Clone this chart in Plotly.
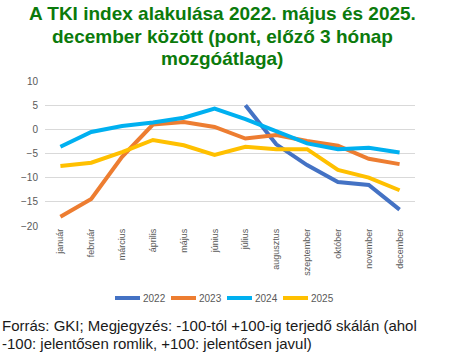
import plotly.graph_objects as go

months = ["január", "február", "március", "április", "május", "június", "július",
          "augusztus", "szeptember", "október", "november", "december"]
y2022 = [None, None, None, None, None, None, 5.0, -3.1, -7.4, -10.9, -11.5, -16.6]
y2023 = [-18.1, -14.4, -5.7, 1.0, 1.5, 0.5, -1.9, -1.2, -2.4, -3.4, -6.1, -7.2]
y2024 = [-3.6, -0.55, 0.7, 1.4, 2.4, 4.3, 2.1, -0.35, -2.9, -4.1, -3.8, -4.8]
y2025 = [-7.6, -6.9, -4.7, -2.2, -3.3, -5.3, -3.6, -4.1, -4.1, -8.4, -10.0, -12.6]

series = [("2022", y2022, "#4472C4"), ("2023", y2023, "#ED7D31"),
          ("2024", y2024, "#00B0F0"), ("2025", y2025, "#FFC000")]

title_lines = ["A TKI index alakulása 2022. május és 2025.",
               "december között (pont, előző 3 hónap",
               "mozgóátlaga)"]
footnote_lines = ["Forrás: GKI; Megjegyzés: -100-tól +100-ig terjedő skálán (ahol",
                  "-100: jelentősen romlik, +100: jelentősen javul)"]

fig = go.Figure()
for name, ys, col in series:
    fig.add_trace(go.Scatter(x=months, y=ys, name=name, mode="lines",
                             line=dict(color=col, width=4), connectgaps=False,
                             showlegend=False))

font = "Liberation Sans, Arial, sans-serif"
L, T, PW, PH = 45, 81, 370.0, 145.0


def px(x):
    return (x - L) / PW


def py(y):
    return (T + PH - y) / PH


annotations = []
for i, line in enumerate(title_lines):
    annotations.append(dict(text="<b>" + line + "</b>", xref="paper", yref="paper",
                            x=px(222), xanchor="center", y=py(13 + 23 * i), yanchor="middle",
                            showarrow=False,
                            font=dict(family=font, size=19, color="#0B7A0B")))
for i, line in enumerate(footnote_lines):
    annotations.append(dict(text=line, xref="paper", yref="paper", x=px(0), xanchor="left",
                            y=py(325 + 18 * i), yanchor="middle", showarrow=False, align="left",
                            font=dict(family=font, size=15, color="#1a1a1a")))

shapes = []
leg_x0, leg_step, leg_y = 115, 56, 298
for i, (name, ys, col) in enumerate(series):
    x0 = leg_x0 + i * leg_step
    shapes.append(dict(type="line", xref="paper", yref="paper", x0=px(x0), x1=px(x0 + 25),
                       y0=py(leg_y), y1=py(leg_y), line=dict(color=col, width=4)))
    annotations.append(dict(text=name, xref="paper", yref="paper", x=px(x0 + 26),
                            xanchor="left", y=py(leg_y), yanchor="middle", showarrow=False,
                            font=dict(family=font, size=10, color="#595959")))

fig.update_layout(
    width=450, height=361,
    margin=dict(l=L, r=450 - L - int(PW), t=T, b=361 - T - int(PH)),
    paper_bgcolor="white", plot_bgcolor="white",
    font=dict(family=font, color="#595959", size=9),
    showlegend=False,
    xaxis=dict(tickangle=-90, showgrid=False, showline=False, ticks="",
               range=[-0.5, 11.5], tickfont=dict(size=9, color="#595959")),
    yaxis=dict(range=[-20, 10], dtick=5, tick0=0, showgrid=True, gridcolor="#D9D9D9",
               gridwidth=1, zeroline=False, showline=False, ticks="",
               ticklabelstandoff=6, tickfont=dict(size=10, color="#595959")),
    annotations=annotations,
    shapes=shapes,
)
fig.write_html("out.html", post_script="document.body.style.margin='0';",
               config={"displayModeBar": False})
